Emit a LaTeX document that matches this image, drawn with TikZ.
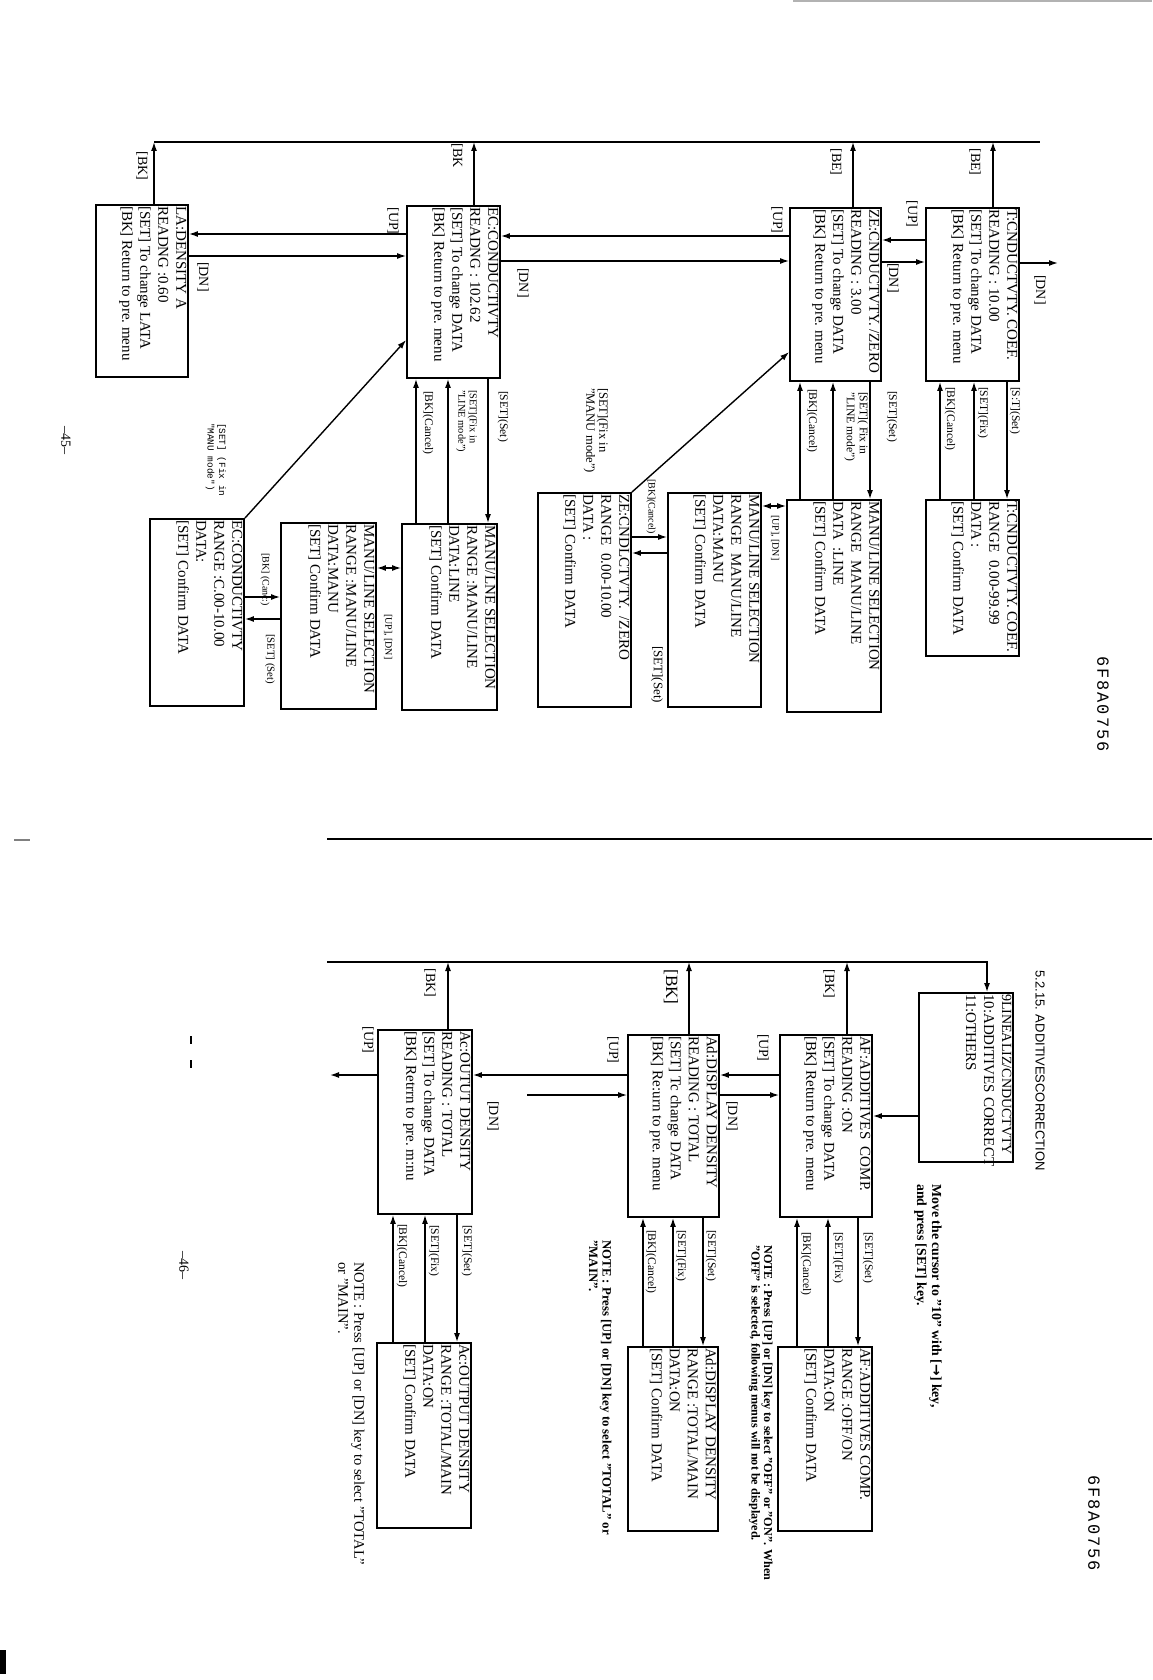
\documentclass[tikz,border=0pt]{standalone}
\usepackage{fontspec}
\setmainfont{Liberation Serif}
\newfontfamily\monof{Liberation Mono}
\newfontfamily\sansf{Liberation Sans}
\newfontfamily\dvf{DejaVu Sans}
\usetikzlibrary{arrows.meta,fit}
\newcommand{\bx}[6]{\node[box,fit={(#2,#3) (#4,#5)}] (#1) {};
  \node[btext] (#1t) at (#1.north east) {#6};}
\begin{document}
\begin{tikzpicture}[x=0.5pt,y=-0.5pt,
  box/.style={draw,line width=0.9pt,inner sep=0pt},
  btext/.style={rotate=-90,anchor=north west,align=left,font=\fontsize{7.5}{9}\selectfont,inner xsep=0.8pt,inner ysep=1.1pt},
  klab/.style={rotate=-90,font=\fontsize{7}{8}\selectfont,inner sep=0.5pt},
  slab/.style={rotate=-90,anchor=west,font=\fontsize{5.8}{6.5}\selectfont,inner sep=0.3pt},
  mlab/.style={rotate=-90,anchor=north west,align=left,inner sep=0.3pt},
  arr/.style={line width=0.7pt,-{Latex[length=4.5pt,width=3pt]}},
  darr/.style={line width=0.7pt,{Latex[length=4.5pt,width=3pt]}-{Latex[length=4.5pt,width=3pt]}},
  ln/.style={line width=0.7pt},
  notetxt/.style={rotate=-90,anchor=north west,align=left,inner sep=0pt}]
\useasboundingbox (0,0) rectangle (1152,1680);
\fill[white] (0,0) rectangle (1152,1680);

% ---------------- page 45 ----------------
\coordinate (tL) at (154,142);
\coordinate (tR) at (1040,142);
\draw[ln] (tL) -- (tR);

\bx{A1}{926}{208}{1019}{381}{T:CNDUCTVTY. COEF.\\READING : 10.00\\{}[SET] To change DATA\\{}[BK] Return to pre.\ menu}
\bx{B1}{790}{208}{881}{381}{ZE:CNDUCTVTY. /ZERO\\READING : 3.00\\{}[SET] To change DATA\\{}[BK] Return to pre.\ menu}
\bx{C1}{407}{206}{500}{378}{EC:CONDUCTIVTY\\READNG : 102.62\\{}[SET] To change DATA\\{}[BK] Return to pre.\ menu}
\bx{D1}{96}{205}{188}{377}{LA:DENSITY A\\READNG :0.60\\{}[SET] To change LATA\\{}[BK] Return to pre.\ menu}
\bx{A2}{926}{500}{1019}{656}{T:CNDUCTVTY. COEF.\\RANGE\ \ 0.00-99.99\\DATA :\\{}[SET] Confirm DATA}
\bx{B2}{787}{500}{881}{712}{MANU/LINE SELECTION\\RANGE\ \ MANU/LINE\\DATA\ \ :LINE\\{}[SET] Confirm DATA}
\bx{B3}{668}{493}{761}{707}{MANU/LINE SELECTION\\RANGE\ \ MANU/LINE\\DATA:MANU\\{}[SET] Confirm DATA}
\bx{B4}{538}{493}{631}{707}{ZE:CNDLCTVTY.\ \ /ZERO\\RANGE\ \ 0.00-10.00\\DATA :\\{}[SET] Confirm DATA}
\bx{C2}{402}{524}{497}{710}{MANU/LNE SELECTION\\RANGE :MANU/LINE\\DATA:LINE\\{}[SET] Confirm DATA}
\bx{C3}{281}{523}{376}{709}{MANU/LINE SELECTION\\RANGE :MANU/LINE\\DATA:MANU\\{}[SET] Confirm DATA}
\bx{C4}{150}{519}{244}{706}{EC:CONDUCTIVTY\\RANGE :C.00-10.00\\DATA:\\{}[SET] Confirm DATA}

% up to top line
\draw[arr] (A1.north -| 993,0) -- (tL -| 993,0);
\draw[arr] (B1.north -| 853,0) -- (tL -| 853,0);
\draw[arr] (C1.north -| 474,0) -- (tL -| 474,0);
\draw[arr] (D1.north -| 154,0) -- (tL);
\node[klab] (lbe1) at (975,162) {[BE]};
\node[klab] (lbe2) at (836,162) {[BE]};
\node[klab] (lbk1) at (457,156) {[BK};
\node[klab] (lbk2) at (142,166) {[BK]};

% row 1 horizontals
\draw[arr] (A1.west |- 0,240) -- (B1.east |- 0,240);
\draw[arr] (B1.east |- 0,262) -- (A1.west |- 0,262);
\draw[arr] (B1.west |- 0,236) -- (C1.east |- 0,236);
\draw[arr] (C1.east |- 0,261) -- (B1.west |- 0,261);
\draw[arr] (C1.west |- 0,234) -- (D1.east |- 0,234);
\draw[arr] (D1.east |- 0,256) -- (C1.west |- 0,256);
\coordinate (dnA) at (1058,263);
\draw[arr] (A1.east |- dnA) -- (dnA);
\node[klab] (lup1) at (912,214) {[UP]};
\node[klab] (ldn1) at (893,278) {[DN]};
\node[klab] (lup2) at (777,220) {[UP]};
\node[klab] (ldn2) at (523,283) {[DN]};
\node[klab] (lup3) at (393,221) {[UP]};
\node[klab] (ldn3) at (203,277) {[DN]};
\node[klab] (ldn0) at (1040,290) {[DN]};

% A verticals
\draw[arr] (A1.south -| 1007,0) -- (A2.north -| 1007,0);
\draw[arr] (A2.north -| 974,0) -- (A1.south -| 974,0);
\draw[arr] (A2.north -| 940,0) -- (A1.south -| 940,0);
\node[slab] (la1) at (1015,386) {[S:T](Set)};
\node[slab] (la2) at (983,386) {[SET](Fix)};
\node[slab] (la3) at (950,386) {[BK](Cancel)};

% B verticals
\draw[arr] (B1.south -| 870,0) -- (B2.north -| 870,0);
\draw[arr] (B2.north -| 833,0) -- (B1.south -| 833,0);
\draw[arr] (B2.north -| 800,0) -- (B1.south -| 800,0);
\node[slab] (lb1) at (892,390) {[SET](Set)};
\node[mlab,font=\fontsize{5.8}{6.5}\selectfont] (lb2) at (869,391) {[SET]( Fix in\\"LINE mode")};
\node[slab] (lb3) at (812,388) {[BK](Cancel)};

% C verticals
\draw[arr] (C1.south -| 488,0) -- (C2.north -| 488,0);
\draw[arr] (C2.north -| 448,0) -- (C1.south -| 448,0);
\draw[arr] (C2.north -| 416,0) -- (C1.south -| 416,0);
\node[slab] (lc1) at (503,390) {[SET](Set)};
\node[mlab,font=\fontsize{5.2}{5.7}\selectfont] (lc2) at (478,389) {[SET](Fix in\\"LINE mode")};
\node[slab] (lc3) at (428,390) {[BK](Cancel)};

% B row 2
\draw[darr] (B3.east |- 0,506) -- (B2.west |- 0,506);
\node[slab,font=\fontsize{5}{6}\selectfont] (lb4) at (775,514) {[UP], [DN]};
\draw[arr] (B4.east |- 0,537) -- (B3.west |- 0,537);
\draw[arr] (B3.west |- 0,553) -- (B4.east |- 0,553);
\node[slab,font=\fontsize{5}{6}\selectfont] (lb5) at (651,478) {[BK](Cancel)};
\node[rotate=-90,anchor=west,font=\fontsize{6.5}{7}\selectfont,inner sep=0.3pt] (lb6) at (657,645) {[SET](Set)};
\draw[arr] (B4.north east) -- (B1.west |- 0,352);
\node[mlab,font=\fontsize{6.3}{6.4}\selectfont] (lb7) at (609,387) {[SET](Fix in\\"MANU mode")};

% C row 2
\draw[darr] (C3.east |- 0,568) -- (C2.west |- 0,568);
\node[slab,font=\fontsize{5}{6}\selectfont] (lc4) at (388,613) {[UP], [DN]};
\draw[arr] (C4.east |- 0,597) -- (C3.west |- 0,597);
\draw[arr] (C3.west |- 0,619) -- (C4.east |- 0,619);
\node[slab,font=\fontsize{5}{6}\selectfont] (lc5) at (265,552) {[BK] (Canc:)};
\node[slab,font=\fontsize{5.4}{6}\selectfont] (lc6) at (270,633) {[SET] (Set)};
\draw[arr] (C4.north east) -- (C1.west |- 0,340);
\node[mlab,font=\monof\fontsize{4.7}{5.8}\selectfont] (lc7) at (227,422) {[SET] (Fix in\\"MANU mode")};

\node[rotate=-90,font=\fontsize{7}{8}\selectfont] (p45) at (66,440) {--45--};
\node[rotate=-90,font=\monof\fontsize{8.5}{9}\selectfont] (id1) at (1103,704) {6\kern1pt F\kern1pt 8\kern1pt A\kern1pt 0\kern1pt 7\kern1pt 5\kern1pt 6};

% page marks
\draw[gray!60,line width=0.8pt] (793,1) -- (1152,1);
\draw[line width=0.8pt] (327,839) -- (1152,839);
\draw[gray,line width=0.6pt] (14,840) -- (30,840);

% ---------------- page 46 ----------------
\node[rotate=-90,anchor=west,font=\sansf\fontsize{6.5}{7}\selectfont,inner sep=0pt] (head) at (1040,970) {5.2.15. ADDITIVESCORRECTION};
\coordinate (bL) at (327,962);
\coordinate (bR) at (987,962);
\bx{E0}{919}{993}{1013}{1162}{\fontsize{7}{9}\selectfont 9LINEALIZ/CNDUCTVTY\\10:ADDITIVES CORRECT\\11:OTHERS}
\draw[arr] (bL) -- (bR) -- (E0.north -| bR);
\node[notetxt,font=\bfseries\fontsize{6.9}{7.4}\selectfont] (move) at (942,1184) {Move the cursor to "10" with [{\dvf →}] key,\\and press [SET] key.};

\bx{AF1}{780}{1035}{872}{1217}{AF:ADDITIVES\ \ COMP.\\READING :ON\\{}[SET] To change DATA\\{}[BK] Return to pre.\ menu}
\bx{Ad1}{628}{1035}{719}{1217}{Ad:DISPLAY DENSITY\\READING : TOTAL\\{}[SET] Tc change DATA\\{}[BK] Re:urn to pre.\ menu}
\bx{Ac1}{378}{1030}{472}{1214}{Ac:OUTUT DENSITY\\READING : TOTAL\\{}[SET] To change DATA\\{}[BK] Retrrn to pre.\ m:nu}
\bx{AF2}{778}{1347}{872}{1531}{AF:ADDITIVES COMP.\\RANGE :OFF/ON\\DATA:ON\\{}[SET] Confirm DATA}
\bx{Ad2}{628}{1347}{718}{1531}{Ad:DISPLAY DENSITY\\RANGE :TOTAL/MAIN\\DATA:ON\\{}[SET] Confirm DATA}
\bx{Ac2}{377}{1343}{471}{1528}{Ac:OUTPUT DENSITY\\RANGE :TOTAL/MAIN\\DATA:ON\\{}[SET] Confirm DATA}

\draw[arr] (E0.west |- 0,1116) -- (AF1.east |- 0,1116);
\draw[arr] (AF1.north -| 847,0) -- (bL -| 847,0);
\draw[arr] (Ad1.north -| 689,0) -- (bL -| 689,0);
\draw[arr] (Ac1.north -| 448,0) -- (bL -| 448,0);
\node[klab] (bk1) at (829,984) {[BK]};
\node[klab,font=\fontsize{8.6}{9}\selectfont] (bk2) at (671,987) {[BK]};
\node[klab] (bk3) at (430,983) {[BK]};

\draw[arr] (AF1.west |- 0,1075) -- (Ad1.east |- 0,1075);
\draw[arr] (Ad1.east |- 0,1095) -- (AF1.west |- 0,1095);
\draw[arr] (Ad1.west |- 0,1075) -- (Ac1.east |- 0,1075);
\coordinate (adn) at (527,1095);
\draw[arr] (adn) -- (Ad1.west |- adn);
\coordinate (acup) at (330,1075);
\draw[arr] (Ac1.west |- acup) -- (acup);
\node[klab] (bup1) at (763,1048) {[UP]};
\node[klab] (bdn1) at (732,1116) {[DN]};
\node[klab] (bup2) at (613,1050) {[UP]};
\node[klab] (bdn2) at (493,1116) {[DN]};
\node[klab] (bup3) at (368,1040) {[UP]};

% verticals
\draw[arr] (AF1.south -| 858,0) -- (AF2.north -| 858,0);
\draw[arr] (AF2.north -| 828,0) -- (AF1.south -| 828,0);
\draw[arr] (AF2.north -| 797,0) -- (AF1.south -| 797,0);
\node[slab] (f1) at (868,1231) {[SET](Set)};
\node[slab] (f2) at (838,1231) {[SET](Fix)};
\node[slab] (f3) at (806,1231) {[BK](Cancel)};
\draw[arr] (Ad1.south -| 703,0) -- (Ad2.north -| 703,0);
\draw[arr] (Ad2.north -| 673,0) -- (Ad1.south -| 673,0);
\draw[arr] (Ad2.north -| 643,0) -- (Ad1.south -| 643,0);
\node[slab] (g1) at (711,1229) {[SET](Set)};
\node[slab] (g2) at (681,1229) {[SET](Fix)};
\node[slab] (g3) at (651,1229) {[BK](Cancel)};
\draw[arr] (Ac1.south -| 457,0) -- (Ac2.north -| 457,0);
\draw[arr] (Ac2.north -| 425,0) -- (Ac1.south -| 425,0);
\draw[arr] (Ac2.north -| 393,0) -- (Ac1.south -| 393,0);
\node[slab] (h1) at (467,1224) {[SET](Set)};
\node[slab] (h2) at (434,1224) {[SET](Fix)};
\node[slab] (h3) at (402,1223) {[BK](Cancel)};

\node[notetxt,font=\bfseries\fontsize{6.1}{6.3}\selectfont] (n1) at (773,1245) {NOTE : Press [UP] or [DN] key to select "OFF" or "ON". When\\"OFF" is selected, following menus will not be displayed.};
\node[notetxt,font=\bfseries\fontsize{6.4}{6.8}\selectfont] (n2) at (612,1240) {NOTE : Press [UP] or [DN] key to select "TOTAL" or\\"MAIN".};
\node[notetxt,font=\fontsize{7.3}{8}\selectfont] (n3) at (365,1262) {NOTE : Press [UP] or [DN] key to select "TOTAL"\\or "MAIN".};

\node[rotate=-90,font=\fontsize{7}{8}\selectfont] (p46) at (184,1265) {--46--};
\node[rotate=-90,font=\monof\fontsize{8.5}{9}\selectfont] (id2) at (1094,1523) {6\kern1pt F\kern1pt 8\kern1pt A\kern1pt 0\kern1pt 7\kern1pt 5\kern1pt 6};

\draw[line width=1.2pt] (191,1036) -- (191,1044);
\draw[line width=1.2pt] (191,1060) -- (191,1068);
\fill (0,1650) rectangle (6,1674);
\end{tikzpicture}
\end{document}
